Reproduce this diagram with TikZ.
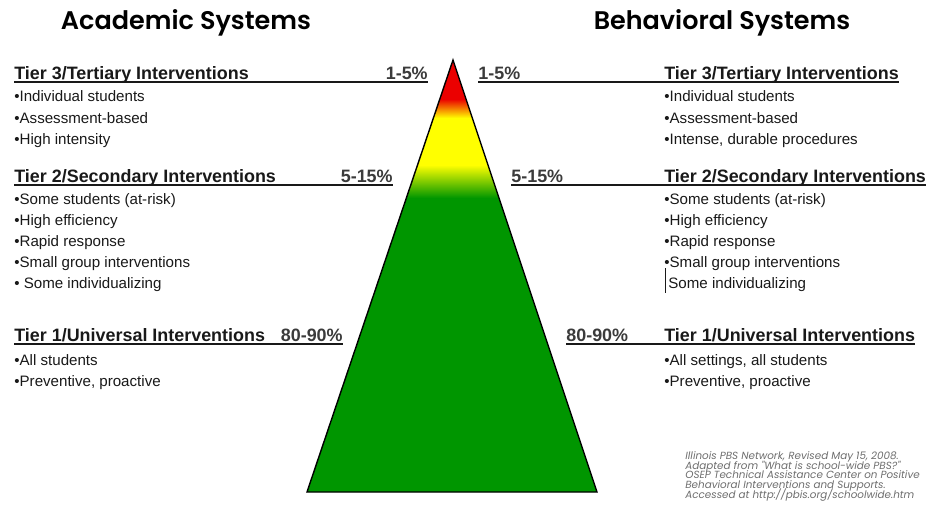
\documentclass[tikz,border=0pt]{standalone}
\usepackage{fontspec}
\setmainfont{Liberation Sans}
\newfontfamily\titlefont{Poppins}[BoldFont={Poppins SemiBold}]
\usepackage{tikz}
\usetikzlibrary{positioning}

\definecolor{tgreen}{RGB}{0,150,0}
\definecolor{tyellow}{RGB}{255,255,0}
\definecolor{tred}{RGB}{235,0,0}
\definecolor{ink}{RGB}{25,25,25}
\definecolor{citegray}{RGB}{110,110,110}

\tikzset{
  systitle/.style={font=\titlefont\bfseries\fontsize{14.5}{17}\selectfont, inner sep=0pt, anchor=base},
  head/.style={font=\bfseries\fontsize{10.2}{12}\selectfont, text=ink, inner sep=0pt},
  pct/.style={head, text=ink!85},
  item/.style={font=\fontsize{8.6}{10}\selectfont, text=ink, inner sep=0pt, anchor=base west},
  rule/.style={draw=ink, line width=0.8pt},
  source/.style={font={\titlefont\itshape\fontsize{5.9}{5.6}\selectfont\lineskiplimit=-5pt\relax}, text=citegray, align=left, inner sep=0pt}
}

\begin{document}
\begin{tikzpicture}[x=0.02cm, y=-0.02cm]
        \useasboundingbox[fill=white] (0,0) rectangle (932,510);

        % pyramid
        \coordinate (top) at (453,60);
        \coordinate (bl) at (307,492);
        \coordinate (br) at (597,492);
        \begin{scope}
          \clip (top) -- (bl) -- (br) -- cycle;
          \fill[tgreen] (300,197) rectangle (600,495);
          \shade[top color=tyellow, bottom color=tgreen] (300,165) rectangle (600,198);
          \fill[tyellow] (300,117) rectangle (600,166);
          \shade[top color=tred, bottom color=tyellow] (300,99) rectangle (600,118);
          \fill[tred] (300,55) rectangle (600,100);
        \end{scope}
        \draw[line width=0.8pt, line join=miter] (top) -- (bl) -- (br) -- cycle;

        % titles
        \node[systitle] (acad) at (186,30) {Academic Systems};
        \node[systitle] (behav) at (722,30) {Behavioral Systems};

        % academic side
        \node[head, anchor=base west] (hL3) at (14,79.5) {Tier 3/Tertiary Interventions};
        \node[pct, anchor=base east] (pL3) at (428,79.5) {1-5\%};
        \draw[rule] ([yshift=-1.5pt]hL3.base west) -- ([yshift=-1.5pt]pL3.base east);
        \node[item] (aL31) at (14,101.7) {•Individual students};
        \node[item] (aL32) at (14,123) {•Assessment-based};
        \node[item] (aL33) at (14,144.5) {•High intensity};

        \node[head, anchor=base west] (hL2) at (14,182.5) {Tier 2/Secondary Interventions};
        \node[pct, anchor=base east] (pL2) at (393,182.5) {5-15\%};
        \draw[rule] ([yshift=-1.5pt]hL2.base west) -- ([yshift=-1.5pt]pL2.base east);
        \node[item] (aL21) at (14,204.5) {•Some students (at-risk)};
        \node[item] (aL22) at (14,225.5) {•High efficiency};
        \node[item] (aL23) at (14,246.5) {•Rapid response};
        \node[item] (aL24) at (14,267.5) {•Small group interventions};
        \node[item] (aL25) at (14,288) {• Some individualizing};

        \node[head, anchor=base west] (hL1) at (14,341.5) {Tier 1/Universal Interventions};
        \node[pct, anchor=base east] (pL1) at (343,341.5) {80-90\%};
        \draw[rule] ([yshift=-1.5pt]hL1.base west) -- ([yshift=-1.5pt]pL1.base east);
        \node[item] (aL11) at (14,365) {•All students};
        \node[item] (aL12) at (14,386) {•Preventive, proactive};

        % behavioral side
        \node[pct, anchor=base west] (pR3) at (478,79.5) {1-5\%};
        \node[head, anchor=base west] (hR3) at (664,79.5) {Tier 3/Tertiary Interventions};
        \draw[rule] ([yshift=-1.5pt]pR3.base west) -- ([yshift=-1.5pt]hR3.base east);
        \node[item] (bR31) at (664,101.7) {•Individual students};
        \node[item] (bR32) at (664,123) {•Assessment-based};
        \node[item] (bR33) at (664,144.5) {•Intense, durable procedures};

        \node[pct, anchor=base west] (pR2) at (511,182.5) {5-15\%};
        \node[head, anchor=base west] (hR2) at (664,182.5) {Tier 2/Secondary Interventions};
        \draw[rule] ([yshift=-1.5pt]pR2.base west) -- ([yshift=-1.5pt]hR2.base east);
        \node[item] (bR21) at (664,204.5) {•Some students (at-risk)};
        \node[item] (bR22) at (664,225.5) {•High efficiency};
        \node[item] (bR23) at (664,246.5) {•Rapid response};
        \node[item] (bR24) at (664,267.5) {•Small group interventions};
        \node[item] (bR25) at (668,288) {Some individualizing};
        \draw[ink, line width=0.6pt] ([xshift=-1.2pt, yshift=11.3pt]bR25.base west) -- ([xshift=-1.2pt, yshift=-2.8pt]bR25.base west);

        \node[pct, anchor=base west] (pR1) at (566,341.5) {80-90\%};
        \node[head, anchor=base west] (hR1) at (664,341.5) {Tier 1/Universal Interventions};
        \draw[rule] ([yshift=-1.5pt]pR1.base west) -- ([yshift=-1.5pt]hR1.base east);
        \node[item] (bR11) at (664,365) {•All settings, all students};
        \node[item] (bR12) at (664,386) {•Preventive, proactive};

        % source note
        \node[source, anchor=north west] (src) at (685,451) {Illinois PBS Network, Revised May 15, 2008.\\Adapted from "What is school-wide PBS?"\\OSEP Technical Assistance Center on Positive\\Behavioral Interventions and Supports.\\Accessed at http://pbis.org/schoolwide.htm};
    \end{tikzpicture}
\end{document}
